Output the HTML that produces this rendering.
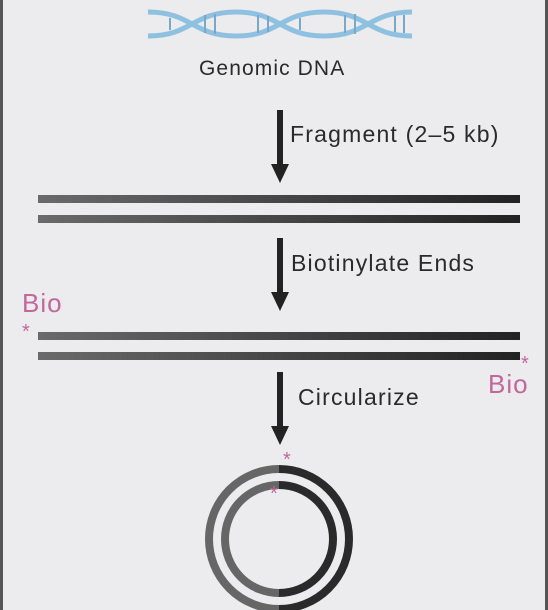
<!DOCTYPE html>
<html><head><meta charset="utf-8"><style>
html,body{margin:0;padding:0}
body{width:548px;height:610px;background:#ececee;position:relative;overflow:hidden;font-family:"Liberation Sans",sans-serif}
.t{position:absolute;color:#2a2a2a;font-size:23px;letter-spacing:1.2px;white-space:nowrap}
.bio{position:absolute;color:#c2679b;font-size:26px;letter-spacing:1px}
</style></head><body>
<div style="position:absolute;left:0;top:0;width:3px;height:610px;background:#555"></div>
<div style="position:absolute;right:0;top:0;width:3px;height:610px;background:#555"></div>
<svg width="548" height="610" style="position:absolute;left:0;top:0">
<defs>
<linearGradient id="g" x1="0" x2="1"><stop offset="0" stop-color="#6a6a6a"/><stop offset="1" stop-color="#222"/></linearGradient>
<linearGradient id="gc" x1="0" x2="1"><stop offset="0" stop-color="#666"/><stop offset="0.5" stop-color="#666"/><stop offset="0.5" stop-color="#2a2a2a"/><stop offset="1" stop-color="#2a2a2a"/></linearGradient>
</defs>
<g stroke="#8ec0e0" fill="none">
<path d="M148,12 C192,12 192,36 236,36 C280,36 280,12 324,12 C368,12 368,36 412,36" stroke-width="5"/>
<path d="M148,36 C192,36 192,12 236,12 C280,12 280,36 324,36 C368,36 368,12 412,12" stroke-width="5"/>
<g stroke-width="2" stroke="#7aa8c8">
<line x1="170" y1="18" x2="170" y2="30"/><line x1="205" y1="15" x2="205" y2="33"/><line x1="215" y1="14" x2="215" y2="34"/><line x1="258" y1="15" x2="258" y2="33"/><line x1="268" y1="16" x2="268" y2="32"/><line x1="300" y1="18" x2="300" y2="30"/><line x1="345" y1="15" x2="345" y2="33"/><line x1="355" y1="14" x2="355" y2="34"/><line x1="395" y1="16" x2="395" y2="32"/><line x1="404" y1="15" x2="404" y2="33"/>
</g></g>
<g fill="#222">
<rect x="277" y="110" width="6" height="56"/><polygon points="271,164 289,164 280,183"/>
<rect x="277" y="238" width="6" height="56"/><polygon points="271,292 289,292 280,311"/>
<rect x="277" y="372" width="6" height="56"/><polygon points="271,426 289,426 280,445"/>
</g>
<g>
<rect x="38" y="195" width="482" height="8" fill="url(#g)"/>
<rect x="38" y="215" width="482" height="8" fill="url(#g)"/>
<rect x="38" y="332" width="482" height="8" fill="url(#g)"/>
<rect x="38" y="352" width="482" height="8" fill="url(#g)"/>
</g>
<g fill="none" stroke="url(#gc)" stroke-width="8">
<circle cx="279" cy="539" r="70"/><circle cx="279" cy="539" r="54"/>
</g>
<g fill="#c2679b" font-size="20" font-family="Liberation Sans,sans-serif">
<text x="22" y="338">*</text><text x="521" y="370">*</text><text x="283" y="466">*</text><text x="270" y="500">*</text>
</g>
</svg>
<div class="t" style="left:199px;top:57px;font-size:21px;letter-spacing:1.1px">Genomic DNA</div>
<div class="t" style="left:290px;top:121px">Fragment (2–5 kb)</div>
<div class="t" style="left:291px;top:250px">Biotinylate Ends</div>
<div class="t" style="left:298px;top:384px">Circularize</div>
<div class="bio" style="left:22px;top:288px">Bio</div>
<div class="bio" style="left:488px;top:369px">Bio</div>
</body></html>
